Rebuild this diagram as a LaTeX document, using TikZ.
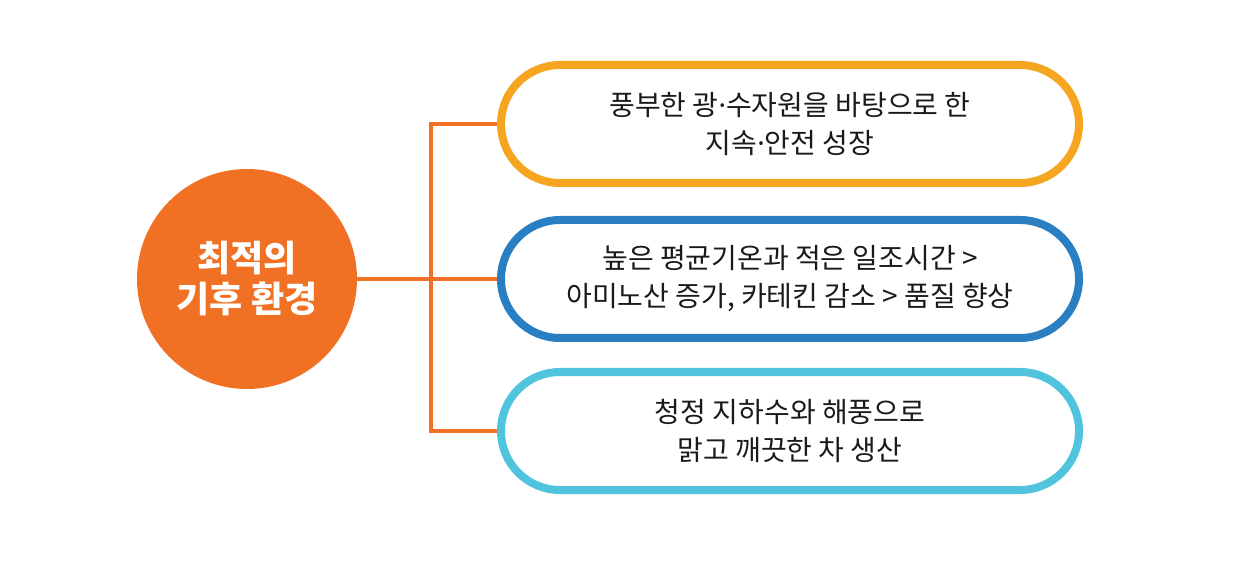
\documentclass[tikz,border=0pt]{standalone}
\usepackage{fontspec}
\setmainfont{Noto Sans CJK KR}
\newfontfamily\latinfont{Noto Sans}
\newcommand{\mdot}{{\latinfont ·}}
\definecolor{corange}{HTML}{F07124}
\definecolor{byellow}{HTML}{F6A520}
\definecolor{bblue}{HTML}{2A7FC2}
\definecolor{bcyan}{HTML}{50C4DD}
\definecolor{ttext}{HTML}{1A1A1A}
\tikzset{
  pill/.style={draw, line width=8pt, rectangle, rounded corners=59pt,
    minimum width=578pt, minimum height=118pt,
    align=center, text=ttext, font=\fontsize{28}{38}\selectfont, inner sep=0pt},
  conn/.style={draw=corange, line width=4pt},
}
\begin{document}
\begin{tikzpicture}[x=1pt,y=-1pt]
\useasboundingbox (0,0) rectangle (1240,561);
\node[circle, fill=corange, minimum size=220pt, inner sep=0pt, align=center,
  text=white, font=\fontsize{36}{41}\selectfont\bfseries] (c) at (247,279) {최적의\\기후 환경};
\coordinate (j) at (431,279);
\node[pill, draw=byellow] (b1) at (790,124) {풍부한 광\mdot 수자원을 바탕으로 한\\지속\mdot 안전 성장};
\node[pill, draw=bblue] (b2) at (790,279) {높은 평균기온과 적은 일조시간 >\\아미노산 증가, 카테킨 감소 > 품질 향상};
\node[pill, draw=bcyan] (b3) at (790,431) {청정 지하수와 해풍으로\\맑고 깨끗한 차 생산};
\draw[conn] (c.east) -- (b2.west);
\draw[conn] (b1.west) -| (j) |- (b3.west);
\end{tikzpicture}
\end{document}
